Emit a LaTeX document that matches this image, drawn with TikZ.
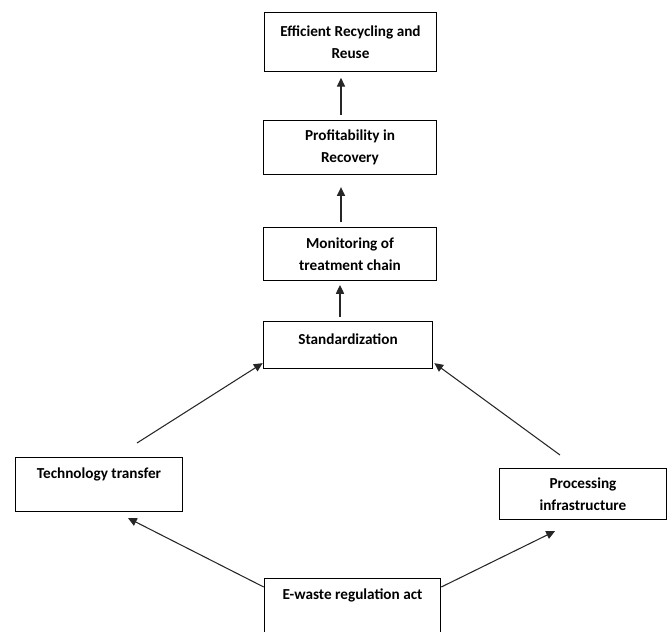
\documentclass[tikz,border=0pt]{standalone}
\usepackage{fontspec}
\setmainfont{Carlito}
\usepackage{tikz}
\usetikzlibrary{%
  arrows.meta,
  positioning
}
\tikzset{>=Triangle}

\begin{document}
\begin{tikzpicture}[x=0.03cm, y=0.03cm]
      \tikzset{box/.style = {draw, line width=1.1pt, align=center, anchor=north,
          font=\fontsize{13}{18.5}\selectfont\bfseries}}
      \tikzset{onerow/.style = {box, inner ysep=0pt}}
      \tikzset{flow/.style = {-{Triangle[length=7.5pt,width=7pt]}, line width=0.9pt, draw=black!85}}

      \clip (0,0) rectangle (672,631);

      % chain of boxes, top to bottom
      \node[box, minimum width=147pt, minimum height=50pt] (reuse) at (350.5,619)
        {Efficient Recycling and\\ Reuse};
      \node[box, minimum width=148pt, minimum height=46pt] (profit) at (350,511)
        {Profitability in\\ Recovery};
      \node[box, minimum width=148pt, minimum height=45pt] (monitor) at (350,404)
        {Monitoring of\\ treatment chain};
      \node[onerow, minimum width=144.6pt, text height=19.6pt, text depth=20.4pt] (std) at (348,310)
        {Standardization};
      \node[onerow, minimum width=143pt, text height=17.9pt, text depth=28pt] (tech) at (99,174)
        {Technology transfer};
      \node[box, minimum width=143pt, minimum height=43.4pt] (infra) at (583,163)
        {Processing\\ infrastructure};
      \node[onerow, minimum width=150.5pt, text height=17.9pt, text depth=60pt] (act) at (352.5,53)
        {E-waste regulation act};

      % arrows
      \draw[flow] ([shift={(0,-9)}]act.north west) -- ([shift={(29,-6)}]tech.south);
      \draw[flow] ([shift={(0,-9)}]act.north east) -- ([shift={(-28,-11)}]infra.south);
      \draw[flow] ([shift={(38,14)}]tech.north) -- ([shift={(0,6)}]std.south west);
      \draw[flow] ([shift={(-23,13)}]infra.north) -- ([shift={(1,6)}]std.south east);
      \draw[flow] ([shift={(-8,4)}]std.north) -- ([shift={(-10,-4)}]monitor.south);
      \draw[flow] ([shift={(-9,5)}]monitor.north) -- ([shift={(-9,-12)}]profit.south);
      \draw[flow] ([shift={(-9,5)}]profit.north) -- ([shift={(-9.5,-6)}]reuse.south);
    \end{tikzpicture}
\end{document}
